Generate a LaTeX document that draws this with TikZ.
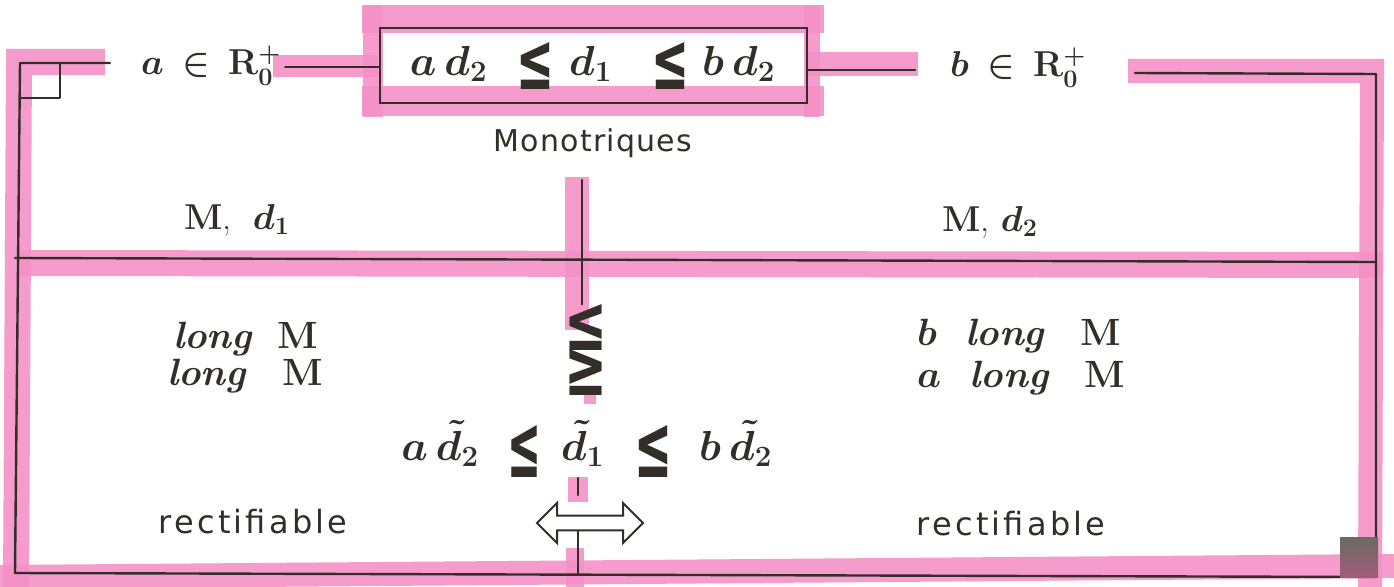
\RequirePackage{fix-cm}
\documentclass[tikz,border=0pt]{standalone}
\usepackage{graphicx}
\usepackage{fontspec}
\newfontfamily\hand{DejaVu Sans}[LetterSpace=4]
\newfontfamily\handwide{DejaVu Sans}[LetterSpace=10]
\newfontfamily\heavy{DejaVu Sans Bold}
\usetikzlibrary{shapes.arrows}
\definecolor{marker}{RGB}{244,146,200}
\definecolor{ink}{RGB}{52,46,40}
\definecolor{cornerA}{RGB}{105,108,98}
\definecolor{cornerB}{RGB}{160,92,120}
% heavy marker-style relation signs: {width}{height}{raise}
\newcommand{\leqmark}[3]{\raisebox{#3}{\resizebox{#1}{#2}{\heavy ≤}}}
\newcommand{\slot}[2]{\makebox[#1]{#2}}
\begin{document}
\begin{tikzpicture}[x=1pt,y=-1pt,
  ink/.style={draw=ink, line width=2.4pt, line cap=round, line join=round},
  hl/.style={draw=marker, line width=#1, opacity=0.9, line cap=butt, line join=miter},
  hl/.default=24pt,
  txt/.style={text=ink, inner sep=0pt},
  formula/.style={txt, font=\fontsize{42}{44}\selectfont\boldmath},
  label/.style={txt, font=\fontsize{36}{38}\selectfont\boldmath},
  cell/.style={txt, font=\fontsize{38}{40}\selectfont\boldmath},
  boxnode/.style={draw=ink, line width=2.4pt, minimum width=427pt, minimum height=75pt, inner sep=0pt, text=ink, font=\fontsize{42}{44}\selectfont\boldmath},
  equiv/.style={double arrow, draw=ink, line width=2pt, minimum height=106pt, minimum width=40pt, inner sep=6pt, double arrow head extend=12pt}
]
\useasboundingbox (0,0) rectangle (1394,586);
\fill[white] (0,0) rectangle (1394,586);

% ---- highlighter strokes ----
\draw[hl=26pt] (105,62) -- (19,62) -- (16,590);
\draw[hl=22pt] (273,66) -- (378,66);
\draw[hl=28pt] (362,19) -- (824,19);
\draw[hl=30pt] (362,101) -- (824,101);
\draw[hl=20pt] (373,5) -- (373,117);
\draw[hl=16pt] (812,5) -- (812,117);
\draw[hl=24pt] (808,64) -- (918,64);
\draw[hl=24pt] (1128,71) -- (1372,71) -- (1370,590);
\draw[hl=26pt] (18,263) -- (1382,265);
\draw[hl=24pt] (577,177) -- (577,330);
\draw[hl=12pt] (590,392) -- (590,404);
\draw[hl=20pt] (578,477) -- (578,502);
\draw[hl=18pt] (575,548) -- (575,590);
\draw[hl=24pt] (0,577) -- (1394,566);

% ---- header ----
\node[label] (aR) at (211,66) {$a\,\in\,\mathbf{R}^{+}_{0}$};
\node[boxnode] (box) at (593.5,65.5) {%
  \slot{72pt}{$a\,d_2$}\hspace{32pt}\slot{38pt}{\leqmark{38pt}{47pt}{-14pt}}\hspace{15pt}%
  \slot{42pt}{$d_1$}\hspace{40pt}\slot{38pt}{\leqmark{38pt}{47pt}{-14pt}}\hspace{13pt}%
  \slot{72pt}{$b\,d_2$}\hspace{9pt}};
\node[label] (bR) at (1018,68) {$b\,\in\,\mathbf{R}^{+}_{0}$};

\coordinate (tl) at (20,63);
\coordinate (bl) at (15,573);
\coordinate (br) at (1376,577);
\coordinate (tr) at (1376,74);
\draw[ink] (110,63) -- (tl) -- (bl) -- (br) -- (tr) -- (1135,73);
\draw[ink] (20,98) -- (60,98) -- (60,63);
\draw[ink] ([xshift=4pt]aR.east |- 0,67) -- (box.west |- 0,67);
\draw[ink] (box.east |- 0,70) -- (915,70);

% ---- column titles ----
\node[txt, font=\hand\fontsize{30}{32}\selectfont] (mono) at (593,143) {Monotriques};
\node[label] (md1) at (237,220) {\textbf{M},\; $d_1$};
\node[label] (md2) at (990,222) {\textbf{M}, $d_2$};
\draw[ink] (bl |- 0,258) -- (br |- 0,262);

% ---- lower cells ----
\node[cell, anchor=base west] (l1) at (173,348) {\textbf{\textit{long}\; M}};
\node[cell, anchor=base west] (l2) at (167,385) {\textbf{\textit{long}\;\; M}};
\node[cell, anchor=base west] (r1) at (917,345) {$b$\;\, \textbf{\textit{long}\;\; M}};
\node[cell, anchor=base west] (r2) at (917,387) {$a$\;\, \textbf{\textit{long}\;\; M}};

\node[txt, align=center] (cmp) at (586,350)
  {\resizebox{43pt}{46pt}{\heavy ≤}\\[-2pt]\resizebox{43pt}{46pt}{\heavy ≥}};
\node[formula, anchor=base] (row) at (589,460) {%
  \slot{82pt}{$a\,\tilde{d}_2$}\hspace{26pt}\slot{34pt}{\leqmark{34pt}{52pt}{-17pt}}\hspace{18pt}%
  \slot{47pt}{$\tilde{d}_1$}\hspace{28pt}\slot{38pt}{\leqmark{38pt}{52pt}{-17pt}}\hspace{20pt}%
  \slot{87pt}{$b\,\tilde{d}_2$}};
\node[equiv] (eqv) at (590,523) {};

\node[txt, font=\handwide\fontsize{32}{34}\selectfont] (rl) at (253,522) {rectifiable};
\node[txt, font=\handwide\fontsize{32}{34}\selectfont] (rr) at (1011,524) {rectifiable};

% ---- middle divider, broken by the symbols ----
\coordinate (vtop) at (582,180);
\draw[ink] (vtop) -- (vtop |- cmp.north);
\draw[ink] (578,478) -- (578,495);
\draw[ink] (eqv.south -| 578,0) -- (578,575);

% ---- corner stamp ----
\shade[top color=cornerA, bottom color=cornerB] (1340,537) rectangle (1378,577);
\end{tikzpicture}
\end{document}
